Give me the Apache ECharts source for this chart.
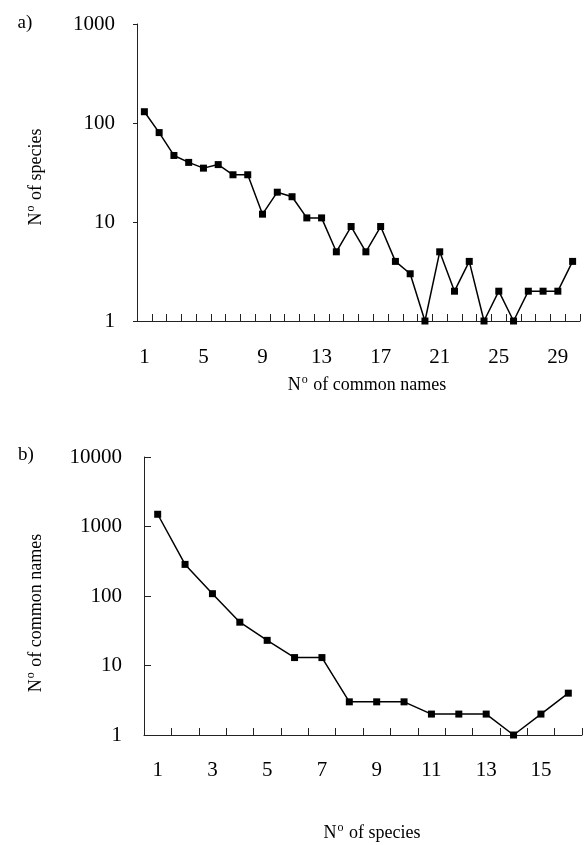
<!DOCTYPE html>
<html>
<head>
<meta charset="utf-8">
<script src="https://cdn.jsdelivr.net/npm/echarts@6/dist/echarts.min.js"></script>
<style>
  html, body { margin: 0; padding: 0; background: #fff; }
  #main { width: 584px; height: 845px; }
</style>
</head>
<body>
<div id="main"></div>
<script>
  // a) species per number of common names
  var namesCats = ['1', '2', '3', '4', '5', '6', '7', '8', '9', '10', '11', '12', '13', '14', '15',
    '16', '17', '18', '19', '20', '21', '22', '23', '24', '25', '26', '27', '28', '29', '30'];
  var speciesCounts = [130, 80, 47, 40, 35, 38, 30, 30, 12, 20, 18, 11, 11, 5, 9,
    5, 9, 4, 3, 1, 5, 2, 4, 1, 2, 1, 2, 2, 2, 4];

  // b) common names per number of species
  var speciesCats = ['1', '2', '3', '4', '5', '6', '7', '8', '9', '10', '11', '12', '13', '14', '15', '16'];
  var namesCounts = [1500, 285, 108, 42, 23, 13, 13, 3, 3, 3, 2, 2, 2, 1, 2, 4];

  var FONT = 'Liberation Serif';
  var axisColor = '#222';

  // "N" + superscript "o" + rest of the title
  function title(text, x, y, vertical) {
    return {
      type: 'text',
      x: x,
      y: y,
      rotation: vertical ? Math.PI / 2 : 0,
      style: {
        text: '{n|N}{o|o}{t| ' + text + '}',
        align: 'center',
        verticalAlign: 'middle',
        fill: '#000',
        rich: {
          n: { fontFamily: FONT, fontSize: 18, lineHeight: 18, fill: '#000' },
          o: { fontFamily: FONT, fontSize: 12, lineHeight: 12, fill: '#000', padding: [0, 1, 10, 1] },
          t: { fontFamily: FONT, fontSize: 18, lineHeight: 18, fill: '#000' }
        }
      }
    };
  }

  function xAx(idx, data, labelInterval, margin) {
    return {
      type: 'category',
      gridIndex: idx,
      data: data,
      boundaryGap: true,
      axisLine: { lineStyle: { color: axisColor, width: 1 } },
      axisTick: { show: true, inside: true, length: 7, interval: 0, lineStyle: { color: axisColor } },
      axisLabel: { interval: labelInterval, margin: margin, color: '#000', fontFamily: FONT, fontSize: 21 },
      splitLine: { show: false }
    };
  }

  function yAx(idx, max, inside) {
    return {
      type: 'log',
      logBase: 10,
      gridIndex: idx,
      min: 1,
      max: max,
      axisLine: { show: true, lineStyle: { color: axisColor, width: 1 } },
      axisTick: { show: true, inside: inside, length: inside ? 7 : 4, lineStyle: { color: axisColor } },
      axisLabel: {
        margin: 22, color: '#000', fontFamily: FONT, fontSize: 21,
        formatter: function (v) { return String(Math.round(v)); }
      },
      minorTick: { show: false },
      splitLine: { show: false }
    };
  }

  var chart = echarts.init(document.getElementById('main'));
  chart.setOption({
    backgroundColor: '#fff',
    animation: false,
    grid: [
      { left: 137, right: 4, top: 24, bottom: 524 },
      { left: 144, right: 2, top: 457, bottom: 110 }
    ],
    xAxis: [
      xAx(0, namesCats, 3, 26),
      xAx(1, speciesCats, 1, 25)
    ],
    yAxis: [
      yAx(0, 1000, false),
      yAx(1, 10000, true)
    ],
    series: [
      {
        type: 'line',
        xAxisIndex: 0,
        yAxisIndex: 0,
        data: speciesCounts,
        symbol: 'rect',
        symbolSize: 7,
        lineStyle: { color: '#000', width: 1.5 },
        itemStyle: { color: '#000' }
      },
      {
        type: 'line',
        xAxisIndex: 1,
        yAxisIndex: 1,
        data: namesCounts,
        symbol: 'rect',
        symbolSize: 7,
        lineStyle: { color: '#000', width: 1.5 },
        itemStyle: { color: '#000' }
      }
    ],
    graphic: [
      { type: 'text', x: 25, y: 23, style: { text: 'a)', font: '19px "Liberation Serif"', fill: '#000', align: 'center', verticalAlign: 'middle' } },
      { type: 'text', x: 26, y: 455, style: { text: 'b)', font: '19px "Liberation Serif"', fill: '#000', align: 'center', verticalAlign: 'middle' } },
      title('of species', 36, 177, true),
      title('of common names', 367, 385, false),
      title('of common names', 36, 613, true),
      title('of species', 372, 833, false)
    ]
  });
</script>
</body>
</html>
